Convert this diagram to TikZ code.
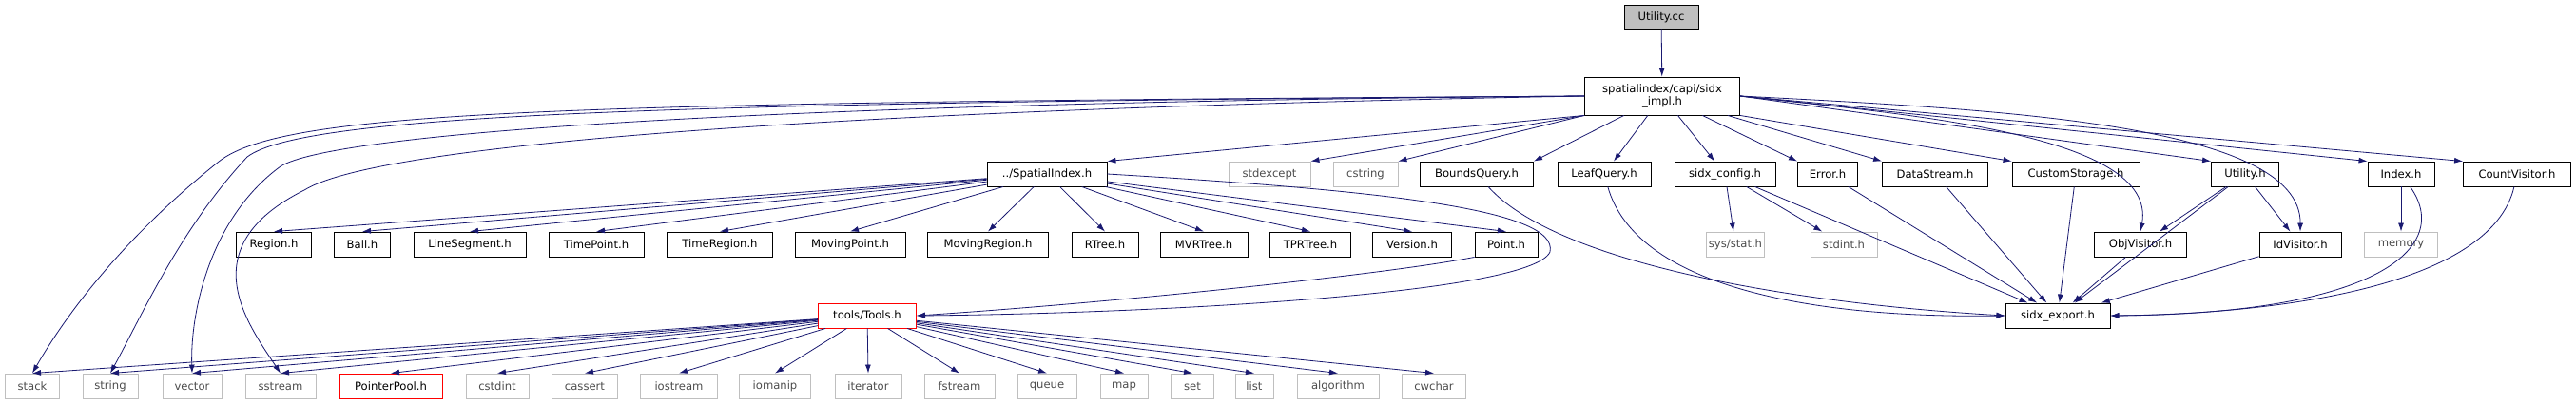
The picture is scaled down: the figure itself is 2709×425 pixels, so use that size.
\documentclass[tikz,border=0pt]{standalone}
\usepackage{fontspec}
\setmainfont{DejaVu Sans}
\usetikzlibrary{arrows.meta}
\definecolor{edge}{HTML}{191970}
\definecolor{lg}{HTML}{BFBFBF}
\begin{document}
\begin{tikzpicture}[x=0.5pt,y=-0.5pt,
  base/.style={draw,rectangle,inner sep=0pt,minimum height=13pt,font=\fontsize{5.8}{6.8}\selectfont,align=center},
  blk/.style={base,draw=black,line width=0.45pt},
  gry/.style={base,draw=lg,line width=0.45pt,text=black!70},
  red/.style={base,draw=red,line width=0.45pt},
  root/.style={base,draw=black,fill=lg,line width=0.45pt},
  e/.style={draw=edge,line width=0.4pt,-{Latex[length=4.5pt,width=3pt]}}]
\useasboundingbox (0,0) rectangle (2709,425);
\newcommand{\nd}[6]{\node[#6,minimum width={#4*0.5pt}] (#1) at (#2,#3) {#5};}
\nd{root}{1747}{18}{78}{Utility.cc}{root}
\nd{impl}{1748}{101}{163}{spatialindex/capi/sidx\\\_impl.h}{blk,minimum height=20pt}
% row2
\nd{si}{1101}{183}{126}{../SpatialIndex.h}{blk}
\nd{stdexcept}{1335}{183}{86}{stdexcept}{gry}
\nd{cstring}{1436}{183}{68}{cstring}{gry}
\nd{bq}{1553}{183}{119}{BoundsQuery.h}{blk}
\nd{lq}{1687}{183}{98}{LeafQuery.h}{blk}
\nd{cfg}{1814}{183}{106}{sidx\_config.h}{blk}
\nd{err}{1922}{183}{63}{Error.h}{blk}
\nd{ds}{2035}{183}{111}{DataStream.h}{blk}
\nd{cs}{2183}{183}{134}{CustomStorage.h}{blk}
\nd{uh}{2361}{183}{71}{Utility.h}{blk}
\nd{idx}{2525}{183}{70}{Index.h}{blk}
\nd{cv}{2647}{183}{113}{CountVisitor.h}{blk}
% row3
\nd{region}{288}{257}{79}{Region.h}{blk}
\nd{ball}{381}{257}{59}{Ball.h}{blk}
\nd{ls}{494}{257}{118}{LineSegment.h}{blk}
\nd{tp}{627}{257}{100}{TimePoint.h}{blk}
\nd{tr}{757}{257}{111}{TimeRegion.h}{blk}
\nd{mp}{894}{257}{116}{MovingPoint.h}{blk}
\nd{mr}{1039}{257}{127}{MovingRegion.h}{blk}
\nd{rt}{1162}{257}{70}{RTree.h}{blk}
\nd{mvr}{1266}{257}{92}{MVRTree.h}{blk}
\nd{tpr}{1378}{257}{85}{TPRTree.h}{blk}
\nd{ver}{1485}{257}{83}{Version.h}{blk}
\nd{pt}{1584}{257}{66}{Point.h}{blk}
\nd{stat}{1825}{257}{61}{sys/stat.h}{gry}
\nd{stdint}{1939}{257}{70}{stdint.h}{gry}
\nd{ov}{2251}{257}{97}{ObjVisitor.h}{blk}
\nd{iv}{2419}{257}{86}{IdVisitor.h}{blk}
\nd{mem}{2525}{257}{77}{memory}{gry}
% row4
\nd{tools}{912}{332}{103}{tools/Tools.h}{red}
\nd{exp}{2164}{332}{110}{sidx\_export.h}{blk}
% row5
\nd{stack}{34}{406}{57}{stack}{gry}
\nd{string}{116}{406}{58}{string}{gry}
\nd{vector}{202}{406}{62}{vector}{gry}
\nd{sstream}{295}{406}{74}{sstream}{gry}
\nd{pp}{411}{406}{108}{PointerPool.h}{red}
\nd{cstdint}{523}{406}{66}{cstdint}{gry}
\nd{cassert}{615}{406}{69}{cassert}{gry}
\nd{iostream}{714}{406}{81}{iostream}{gry}
\nd{iomanip}{815}{406}{75}{iomanip}{gry}
\nd{iterator}{913}{406}{70}{iterator}{gry}
\nd{fstream}{1009}{406}{74}{fstream}{gry}
\nd{queue}{1101}{406}{62}{queue}{gry}
\nd{map}{1182}{406}{50}{map}{gry}
\nd{set}{1254}{406}{45}{set}{gry}
\nd{list}{1319}{406}{40}{list}{gry}
\nd{alg}{1407}{406}{86}{algorithm}{gry}
\nd{cw}{1508}{406}{67}{cwchar}{gry}
% edges
\draw[e] (root) -- (impl);
\draw[e] (impl.west) .. controls (600,108) and (300,115) .. (230,170) .. controls (130,250) and (70,330) .. (stack.north);
\draw[e] (impl.west) .. controls (700,108) and (320,120) .. (260,165) .. controls (190,240) and (150,330) .. (string.north);
\draw[e] (impl.west) .. controls (800,108) and (350,140) .. (295,175) .. controls (220,230) and (200,330) .. (vector.north);
\draw[e] (impl.west) .. controls (900,115) and (400,150) .. (320,200) .. controls (200,260) and (260,340) .. (sstream.north);
\draw[e] (impl.south west) -- (si.north east);
\draw[e] (impl.south west) -- (stdexcept.north east);
\draw[e] (impl.south west) -- (cstring.north east);
\draw[e] (impl) -- (bq.north east);
\draw[e] (impl) -- (lq);
\draw[e] (impl) -- (cfg);
\draw[e] (impl) -- (err.north west);
\draw[e] (impl) -- (ds.north west);
\draw[e] (impl.south east) -- (cs.north west);
\draw[e] (impl.east) -- (uh.north west);
\draw[e] (impl.east) -- (idx.north west);
\draw[e] (impl.east) -- (cv.north west);
\draw[e] (impl.east) .. controls (2000,120) and (2270,140) .. (ov.north);
\draw[e] (impl.east) .. controls (2100,115) and (2420,130) .. (iv.north);
\foreach \t in {region,ball,ls,tp,tr,mp,mr,rt,mvr,tpr,ver,pt}
  \draw[e] (si) -- (\t.north);
\draw[e] (si.east) .. controls (1450,200) and (1640,220) .. (1630,265) .. controls (1610,310) and (1200,330) .. (tools.east);
\draw[e] (pt.south west) .. controls (1450,290) and (1150,320) .. (tools.east);
\foreach \t in {stack,string,vector,sstream,pp,cstdint,cassert,iostream,iomanip,iterator,fstream,queue,map,set,list,alg,cw}
  \draw[e] (tools) -- (\t.north);
\draw[e] (bq) .. controls (1640,280) and (1900,320) .. (exp.west);
\draw[e] (lq) .. controls (1720,300) and (1900,335) .. (exp.west);
\foreach \t in {cfg,err,ds,cs,uh,ov,iv}
  \draw[e] (\t) -- (exp);
\draw[e] (idx) .. controls (2580,260) and (2500,330) .. (exp.east);
\draw[e] (cv) .. controls (2620,300) and (2400,330) .. (exp.east);
\draw[e] (cfg) -- (stat);
\draw[e] (cfg) -- (stdint);
\draw[e] (uh) -- (ov);
\draw[e] (uh) -- (iv);
\draw[e] (idx) -- (mem);
\end{tikzpicture}
\end{document}
